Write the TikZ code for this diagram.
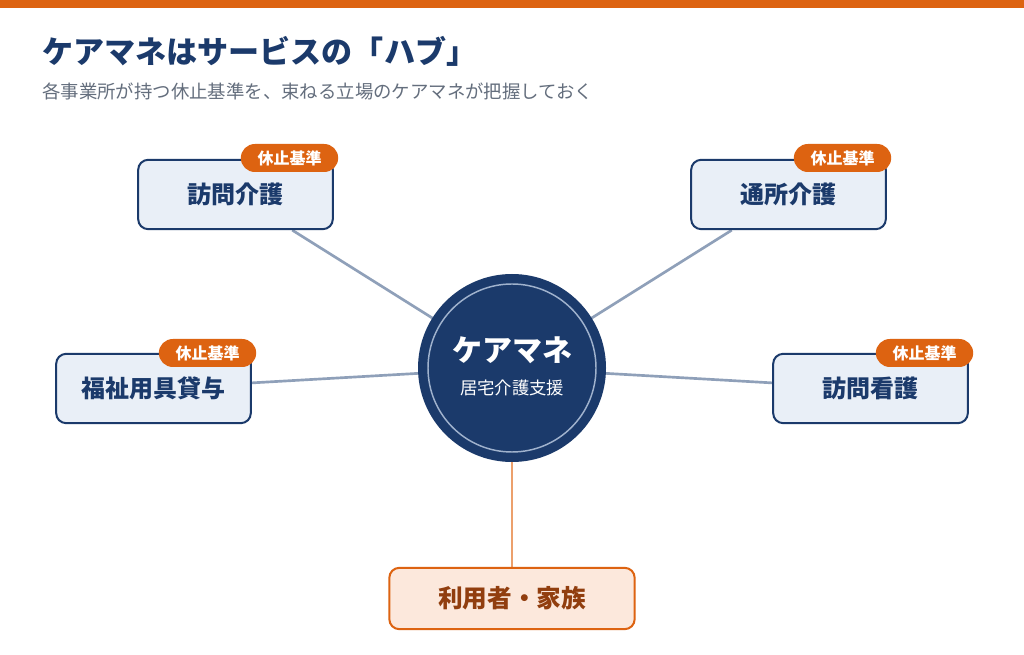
\documentclass[tikz,border=0pt]{standalone}
\usepackage{fontspec}
\setmainfont{Noto Sans CJK JP}
\usepackage{tikz}
\usetikzlibrary{positioning, backgrounds}
\definecolor{hubnavy}{RGB}{27,58,107}
\definecolor{hubfill}{RGB}{233,239,247}
\definecolor{hubgray}{RGB}{143,160,185}
\definecolor{subgray}{RGB}{100,110,125}
\definecolor{careorange}{RGB}{221,99,17}
\definecolor{userfill}{RGB}{252,232,220}
\definecolor{userline}{RGB}{236,160,108}
\definecolor{userbrown}{RGB}{145,62,15}
\definecolor{ringgray}{RGB}{160,178,205}

\begin{document}
\begin{tikzpicture}[
    x=0.75pt, y=-0.75pt,
    service/.style={draw=hubnavy, fill=hubfill, line width=1.5pt, rounded corners=7.5pt, minimum width=146pt, minimum height=52pt, text=hubnavy, font=\fontsize{18}{20}\selectfont\bfseries},
    badge/.style={fill=careorange, rounded corners=10.5pt, minimum width=73pt, minimum height=21pt, inner sep=0pt, text=white, font=\fontsize{12}{14}\selectfont\bfseries},
    hub/.style={circle, fill=hubnavy, minimum size=141pt, inner sep=0pt},
    user/.style={draw=careorange, fill=userfill, line width=1.5pt, rounded corners=7.5pt, minimum width=184pt, minimum height=46pt, text=userbrown, font=\fontsize{18.5}{20}\selectfont\bfseries},
    spoke/.style={draw=hubgray, line width=2pt}
]

% Top bar
\fill[careorange] (0,0) rectangle (1024,8);
\useasboundingbox (0,0) rectangle (1024,655);

% Title
\node[anchor=west, text=hubnavy, font=\fontsize{23.3}{26}\selectfont\bfseries, inner sep=0pt] (title) at (42,51) {ケアマネはサービスの「ハブ」};
\node[anchor=west, text=subgray, font=\fontsize{13.8}{16}\selectfont, inner sep=0pt] (subtitle) at (42,91) {各事業所が持つ休止基準を、束ねる立場のケアマネが把握しておく};

% Hub
\node[hub] (caremane) at (512,368) {};
\draw[ringgray, line width=1.1pt] (caremane.center) circle (63pt);
\node[text=white, font=\fontsize{22.5}{26}\selectfont\bfseries] (hubname) at (512,350) {ケアマネ};
\node[text=white, font=\fontsize{13}{15}\selectfont] (hubsub) at (512,388) {居宅介護支援};

% Services
\node[service] (houmon) at (235.5,194.5) {訪問介護};
\node[service] (tsusho) at (788.5,194.5) {通所介護};
\node[service] (fukushi) at (153.5,388.5) {福祉用具貸与};
\node[service] (kango) at (870.5,388.5) {訪問看護};

% Badges
\node[badge] (houmonbadge) at (289.5,158) {休止基準};
\node[badge] (tsushobadge) at (842.5,158) {休止基準};
\node[badge] (fukushibadge) at (207.5,353) {休止基準};
\node[badge] (kangobadge) at (924.5,353) {休止基準};

% User
\node[user] (riyousha) at (512,598.5) {利用者・家族};

% Spokes (white page underneath)
\begin{scope}[on background layer]
\fill[white] (0,8) rectangle (1024,655);
\draw[spoke] (houmon) -- (caremane.center);
\draw[spoke] (tsusho) -- (caremane.center);
\draw[spoke] (fukushi) -- (caremane.center);
\draw[spoke] (kango) -- (caremane.center);
\draw[draw=userline, line width=2.2pt] (caremane.center) -- (riyousha);
\end{scope}

\end{tikzpicture}
\end{document}
